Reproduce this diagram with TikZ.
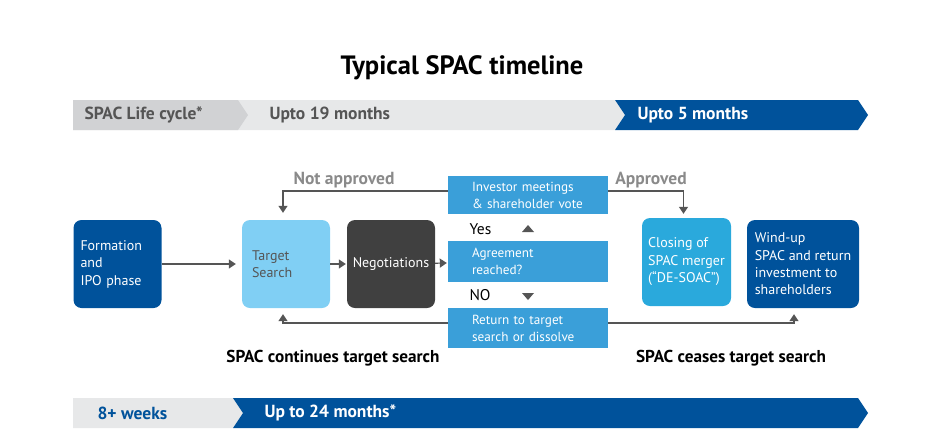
\documentclass[tikz,border=0pt]{standalone}
\usepackage{fontspec}
\setmainfont{PT Sans}
\usetikzlibrary{arrows.meta}
\definecolor{spacblue}{HTML}{00529B}
\definecolor{tgtblue}{HTML}{80CFF4}
\definecolor{stepblue}{HTML}{3A9FD9}
\definecolor{closeblue}{HTML}{2AA9DC}
\definecolor{neggray}{HTML}{404040}
\definecolor{bardark}{HTML}{D1D2D4}
\definecolor{barlight}{HTML}{E7E8E9}
\definecolor{linegray}{HTML}{555555}
\definecolor{notegray}{HTML}{8A8A8A}
\tikzset{
  phase/.style={rounded corners=8pt,minimum width=88pt,minimum height=88pt,
    inner xsep=0pt,align=left,
    font=\fontsize{14}{17.5}\selectfont},
  stepbox/.style={fill=stepblue,text=white,minimum height=40pt,
    text width=112pt,inner xsep=24pt,align=left,
    font=\fontsize{13.2}{17}\selectfont},
  arr/.style={draw=linegray,line width=1.2pt,
    -{Triangle[width=9pt,length=7pt]}},
  bartext/.style={font=\fontsize{17.5}{20}\selectfont\bfseries,anchor=west},
  note/.style={font=\fontsize{17.5}{20}\selectfont\bfseries,text=notegray},
  caption/.style={font=\fontsize{17.2}{20}\selectfont\bfseries}
}
\begin{document}
\begin{tikzpicture}[x=1pt,y=-1pt]
\useasboundingbox (0,0) rectangle (940,432);
% title
\node[font=\fontsize{26.5}{30}\selectfont\bfseries] (title) at (462,68) {Typical SPAC timeline};
% top bar
\fill[barlight] (73,100) -- (615,100) -- (625,115) -- (615,130) -- (73,130) -- cycle;
\fill[bardark] (73,100) -- (238,100) -- (248,115) -- (238,130) -- (73,130) -- cycle;
\fill[spacblue] (615,100) -- (858,100) -- (868,115) -- (858,130) -- (615,130) -- (625,115) -- cycle;
\node[bartext,text=linegray] (life) at (81,115) {SPAC Life cycle*};
\node[bartext,text=linegray] (m19) at (266,115) {Upto 19 months};
\node[bartext,text=white] (m5) at (634,115) {Upto 5 months};
% bottom bar
\fill[barlight] (73,398) -- (233,398) -- (243,413) -- (233,428) -- (73,428) -- cycle;
\fill[spacblue] (233,398) -- (858,398) -- (868,413) -- (858,428) -- (233,428) -- (243,413) -- cycle;
\node[bartext,text=spacblue] (w8) at (94,413) {8+ weeks};
\node[bartext,text=white] (m24) at (261,413) {Up to 24 months*};
% phases
\node[phase,fill=spacblue,text=white,text width=74pt,inner xsep=7pt] (form) at (117.5,264) {Formation\\and\\IPO phase};
\node[phase,fill=tgtblue,text=linegray,text width=68pt,inner xsep=10pt] (tgt) at (286,264) {Target\\Search};
\node[phase,fill=neggray,text=white,align=center] (neg) at (391,264) {Negotiations};
\node[stepbox,minimum height=38pt] (inv) at (528,195) {Investor meetings\\\& shareholder vote};
\node[stepbox,minimum height=41pt] (agr) at (528,261.5) {Agreement\\reached?};
\node[stepbox] (ret) at (528,328) {Return to target\\search or dissolve};
\node[phase,fill=closeblue,text=white,minimum width=89pt] (close) at (686.5,262) {Closing of\\SPAC merger\\(“DE-SOAC”)};
\node[phase,fill=spacblue,text=white,minimum width=112pt,font=\fontsize{14}{17.3}\selectfont] (wind) at (803,264) {Wind-up\\SPAC and return\\investment to\\shareholders};
% decision labels
\node[font=\fontsize{15.5}{18}\selectfont,anchor=west] (yes) at (466,229) {Yes};
\node[font=\fontsize{15.5}{18}\selectfont,anchor=west] (no) at (466,295) {NO};
\fill[linegray] (522,232) -- (534,232) -- (528,225) -- cycle;
\fill[linegray] (522,293) -- (534,293) -- (528,300) -- cycle;
% connectors
\draw[arr,shorten >=6pt] (form) -- (tgt);
\draw[arr,shorten >=1pt] (tgt) -- (neg);
\draw[arr,shorten >=1pt] (neg) -- (agr);
\draw[arr,shorten >=7pt] ([yshift=4pt]inv.west) -| ([xshift=-3pt]tgt.north);
\draw[arr,shorten >=4pt] ([yshift=4pt]inv.east) -| ([xshift=-3pt]close.north);
\draw[arr,shorten >=6pt] ([yshift=5pt]ret.west) -| ([xshift=-3pt]tgt.south);
\draw[arr,shorten >=6pt] ([yshift=5pt]ret.east) -| ([xshift=-9pt]wind.south);
\node[note] (notok) at (344,180) {Not approved};
\node[note] (ok) at (651,180) {Approved};
% captions
\node[caption] (cont) at (333,358) {SPAC continues target search};
\node[caption] (cease) at (731,358) {SPAC ceases target search};
\end{tikzpicture}
\end{document}
